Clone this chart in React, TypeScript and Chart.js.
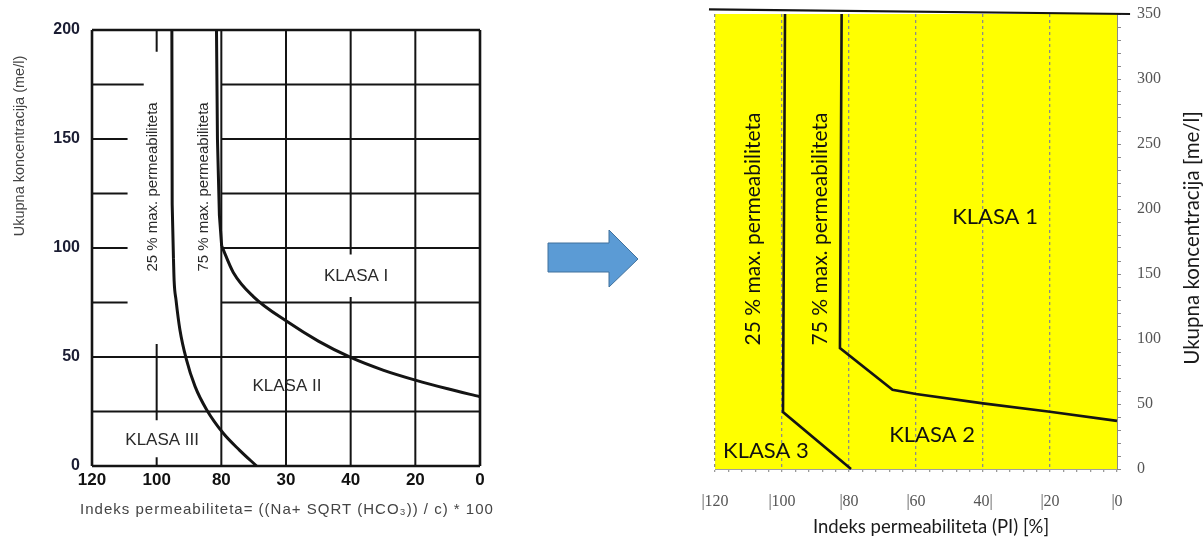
import React, { useEffect, useRef } from "react";
import { Chart, registerables } from "chart.js";

Chart.register(...registerables);

// ---------------- LEFT CHART (original diagram) ----------------
const leftXTicks = [120, 100, 80, 60, 40, 20, 0];
const leftXTickLabels = ["120", "100", "80", "30", "40", "20", "0"];
const leftYTicks = [0, 50, 100, 150, 200];

// 25 % max. permeability curve (straight upper part + curved lower part)
const left25TopX = [95.3, 95.2, 94.8];
const left25TopY = [200, 120, 95];
const left25X = [94.8, 94.6, 94.0, 92.8, 90.9, 88.1, 84.5, 79.4, 74.4, 69.1];
const left25Y = [95, 85, 76, 62.4, 49.4, 36.4, 25.7, 15, 7.3, 0];

// 75 % max. permeability curve
const left75TopX = [81.5, 81.2, 80.6, 79.9];
const left75TopY = [200, 150, 115, 101];
const left75X = [79.9, 76.3, 70.1, 59.3, 50, 40, 30, 20, 10, 0];
const left75Y = [101, 88.8, 77.7, 65.9, 57.3, 49.8, 44.0, 39.4, 35.4, 31.8];

// grid segments: [fixed value, from, to]
const leftHGrid = [
  [25, 120, 0], [50, 120, 0],
  [75, 120, 109], [75, 80, 0],
  [100, 120, 109], [100, 80, 0],
  [125, 120, 109], [125, 80, 0],
  [150, 120, 109], [150, 80, 0],
  [175, 120, 104], [175, 80, 0],
];
const leftVGrid = [
  [100, 200, 190], [100, 56, 21], [100, 4, 0],
  [80, 200, 0], [60, 200, 0],
  [40, 200, 97], [40, 77.5, 0],
  [20, 200, 0],
];
const leftFrameH = [[200, 120, 0], [0, 120, 0]];
const leftFrameV = [[120, 200, 0], [0, 200, 0]];

const leftNotes = ["25 % max. permeabiliteta", "75 % max. permeabiliteta", "KLASA I", "KLASA II", "KLASA III"];
const leftNoteX = [101.1, 85.4, 38.3, 59.7, 98.3];
const leftNoteY = [128, 128, 87, 36.7, 11.9];

const leftYTitle = "Ukupna koncentracija (me/l)";
const leftXTitle = "Indeks permeabiliteta= ((Na+ SQRT (HCO\u2083)) / c) * 100";

// ---------------- RIGHT CHART (redrawn diagram) ----------------
const rightXTicks = [120, 100, 80, 60, 40, 20, 0];
const rightXTickLabels = ["|120", "|100", "|80", "|60", "40|", "|20", "|0"];
const rightYTicks = [0, 50, 100, 150, 200, 250, 300, 350];

const right25X = [99.1, 99.7, 79.4];
const right25Y = [350, 43.8, 0];

const right75X = [82.2, 82.7, 67, 60, 40, 20, 0];
const right75Y = [350, 93, 61, 57.7, 50.5, 44, 37];

const rightTopX = [121.8, -3.9];
const rightTopY = [353.5, 350];

const rightNotes = ["25 % max. permeabiliteta", "75 % max. permeabiliteta", "KLASA 1", "KLASA 2", "KLASA 3"];
const rightNoteX = [108.7, 88.7, 36.4, 55.2, 104.8];
const rightNoteY = [184.6, 184.6, 193.8, 26.2, 13.8];

const rightYTitle = "Ukupna koncentracija [me/l]";
const rightXTitle = "Indeks permeabiliteta (PI) [%]";

// ---------------- helpers ----------------
type Seg = number[];
function segPoints(list: Seg[], horizontal: boolean) {
  const pts: { x: number; y: number | null }[] = [];
  for (const [f, a, b] of list) {
    if (horizontal) pts.push({ x: a, y: f }, { x: b, y: f }, { x: b, y: null });
    else pts.push({ x: f, y: a }, { x: f, y: b }, { x: f, y: null });
  }
  return pts;
}
function zip(xs: number[], ys: number[]) {
  return xs.map((x, i) => ({ x, y: ys[i] }));
}

type Note = { text: string; x: number; y: number; rot: number; font: string; color: string };
type Title = { text: string; px: number; py: number; rot: number; font: string; color: string; spacing?: string };

function textPlugin(id: string, notes: Note[], titles: Title[]) {
  return {
    id,
    afterDraw(chart: any) {
      const ctx = chart.ctx as any;
      const xs = chart.scales.x;
      const ys = chart.scales.y;
      const draw = (t: string, px: number, py: number, rot: number, font: string, color: string, spacing = "0px") => {
        ctx.save();
        ctx.translate(px, py);
        ctx.rotate((rot * Math.PI) / 180);
        ctx.font = font;
        ctx.fillStyle = color;
        ctx.textAlign = "center";
        ctx.textBaseline = "middle";
        if ("letterSpacing" in ctx) ctx.letterSpacing = spacing;
        ctx.fillText(t, 0, 0);
        ctx.restore();
      };
      notes.forEach((n) => draw(n.text, xs.getPixelForValue(n.x), ys.getPixelForValue(n.y), n.rot, n.font, n.color));
      titles.forEach((t) => draw(t.text, t.px, t.py, t.rot, t.font, t.color, t.spacing));
    },
  };
}

const yellowBg = {
  id: "yellowBg",
  beforeDraw(chart: any) {
    const { ctx, chartArea } = chart;
    ctx.save();
    ctx.fillStyle = "#FFFF00";
    ctx.fillRect(chartArea.left, chartArea.top, chartArea.right - chartArea.left, chartArea.bottom - chartArea.top);
    ctx.restore();
  },
};

const SANS = '"Liberation Sans", Arial, sans-serif';
const LATO = 'Lato, "Open Sans", sans-serif';
const SERIF = '"Liberation Serif", "DejaVu Serif", serif';

export default function App() {
  const leftRef = useRef<HTMLCanvasElement>(null);
  const rightRef = useRef<HTMLCanvasElement>(null);

  useEffect(() => {
    document.body.style.margin = "0";
    const black = "#141414";
    const line = (data: any, width: number, extra: any = {}) => ({
      data,
      borderColor: black,
      borderWidth: width,
      pointRadius: 0,
      clip: false as any,
      ...extra,
    });

    const leftNoteObjs: Note[] = leftNotes.map((t, i) => ({
      text: t,
      x: leftNoteX[i],
      y: leftNoteY[i],
      rot: i < 2 ? -90 : 0,
      font: i < 2 ? `15px ${SANS}` : `17px ${SANS}`,
      color: "#2a2a2a",
    }));
    const leftTitles: Title[] = [
      { text: leftYTitle, px: 20, py: 146, rot: -90, font: `14.5px ${SANS}`, color: "#444" },
      { text: leftXTitle, px: 287, py: 510, rot: 0, font: `15px ${SANS}`, color: "#444", spacing: "1px" },
    ];

    const left = new Chart(leftRef.current!, {
      type: "line",
      data: {
        datasets: [
          line(segPoints(leftHGrid, true), 2),
          line(segPoints(leftVGrid, false), 2),
          line(segPoints(leftFrameH, true), 2.6),
          line(segPoints(leftFrameV, false), 2.6),
          line(zip(left25TopX, left25TopY), 3),
          line(zip(left25X, left25Y), 3, { cubicInterpolationMode: "monotone" }),
          line(zip(left75TopX, left75TopY), 3),
          line(zip(left75X, left75Y), 3, { cubicInterpolationMode: "monotone" }),
        ] as any,
      },
      options: {
        responsive: false,
        animation: false,
        events: [],
        layout: { padding: { top: 30, right: 40, left: 0, bottom: 0 } },
        plugins: { legend: { display: false }, tooltip: { enabled: false } },
        scales: {
          x: {
            type: "linear",
            min: 0,
            max: 120,
            reverse: true,
            grid: { display: false, drawTicks: false },
            border: { display: false },
            afterFit: (s: any) => { s.height = 74; s.paddingLeft = 0; s.paddingRight = 0; },
            afterBuildTicks: (s: any) => { s.ticks = leftXTicks.map((v) => ({ value: v })); },
            ticks: {
              autoSkip: false,
              maxRotation: 0,
              padding: 4,
              color: "#111",
              font: { family: SANS, size: 17, weight: "bold" },
              callback: (v: any) => {
                const i = leftXTicks.indexOf(Number(v));
                return i >= 0 ? leftXTickLabels[i] : "";
              },
            },
          },
          y: {
            type: "linear",
            min: 0,
            max: 200,
            grid: { display: false, drawTicks: false },
            border: { display: false },
            afterFit: (s: any) => { s.width = 92; s.paddingTop = 0; s.paddingBottom = 0; },
            afterBuildTicks: (s: any) => { s.ticks = leftYTicks.map((v) => ({ value: v })); },
            ticks: {
              autoSkip: false,
              padding: 12,
              color: "#1b1d33",
              font: { family: SANS, size: 16, weight: "bold" },
            },
          },
        },
      } as any,
      plugins: [textPlugin("leftText", leftNoteObjs, leftTitles)],
    });

    const rightNoteObjs: Note[] = rightNotes.map((t, i) => ({
      text: t,
      x: rightNoteX[i],
      y: rightNoteY[i],
      rot: i < 2 ? -90 : 0,
      font: i < 2 ? `21px ${LATO}` : `22px ${LATO}`,
      color: "#111",
    }));
    const rightTitles: Title[] = [
      { text: rightYTitle, px: 502, py: 238, rot: -90, font: `20.5px ${LATO}`, color: "#1a1a1a" },
      { text: rightXTitle, px: 241, py: 527, rot: 0, font: `18.5px ${LATO}`, color: "#1a1a1a" },
    ];

    const right = new Chart(rightRef.current!, {
      type: "line",
      data: {
        datasets: [
          line(zip(right25X, right25Y), 2.6),
          line(zip(right75X, right75Y), 2.6),
          line(zip(rightTopX, rightTopY), 2.2),
        ] as any,
      },
      options: {
        responsive: false,
        animation: false,
        events: [],
        layout: { padding: { top: 14, right: 0, left: 25, bottom: 0 } },
        plugins: { legend: { display: false }, tooltip: { enabled: false } },
        scales: {
          x: {
            type: "linear",
            min: 0,
            max: 120,
            reverse: true,
            afterFit: (s: any) => { s.height = 71; s.paddingLeft = 0; s.paddingRight = 0; },
            grid: {
              color: (c: any) =>
                c.tick && c.tick.value % 20 === 0 && c.tick.value !== 0 ? "#8c8c8c" : "rgba(0,0,0,0)",
              lineWidth: 1.3,
              tickColor: "#9a9a9a",
              tickLength: 3,
            },
            border: { display: true, color: "#a0a0a0", width: 1, dash: [3, 3] },
            ticks: {
              stepSize: 4,
              autoSkip: false,
              maxRotation: 0,
              minRotation: 0,
              padding: 20,
              color: "#555",
              font: { family: SERIF, size: 16 },
              callback: (v: any) => {
                const i = rightXTicks.indexOf(Number(v));
                return i >= 0 ? rightXTickLabels[i] : "";
              },
            },
          },
          y: {
            type: "linear",
            position: "right",
            min: 0,
            max: 350,
            afterFit: (s: any) => { s.width = 86; s.paddingTop = 0; s.paddingBottom = 0; },
            grid: { drawOnChartArea: false, tickLength: 4, tickColor: "#8a8a8a" },
            border: { display: true, color: "#8a8a8a", width: 1 },
            ticks: {
              stepSize: 10,
              autoSkip: false,
              padding: 16,
              color: "#555",
              font: { family: SERIF, size: 16 },
              callback: (v: any) => (rightYTicks.includes(Number(v)) ? String(v) : ""),
            },
          },
        },
      } as any,
      plugins: [yellowBg, textPlugin("rightText", rightNoteObjs, rightTitles)],
    });

    return () => {
      left.destroy();
      right.destroy();
    };
  }, []);

  return (
    <div style={{ position: "relative", width: 1203, height: 540, overflow: "hidden", background: "#fff" }}>
      <canvas ref={leftRef} width={520} height={540} style={{ position: "absolute", left: 0, top: 0, width: 520, height: 540 }} />
      <svg width={1203} height={540} style={{ position: "absolute", left: 0, top: 0, pointerEvents: "none" }}>
        <polygon
          points="548,243 609,243 609,230 638,259 609,287 609,272 548,272"
          fill="#5B9BD5"
          stroke="#41719C"
          strokeWidth={1}
        />
      </svg>
      <canvas ref={rightRef} width={513} height={540} style={{ position: "absolute", left: 690, top: 0, width: 513, height: 540 }} />
    </div>
  );
}
